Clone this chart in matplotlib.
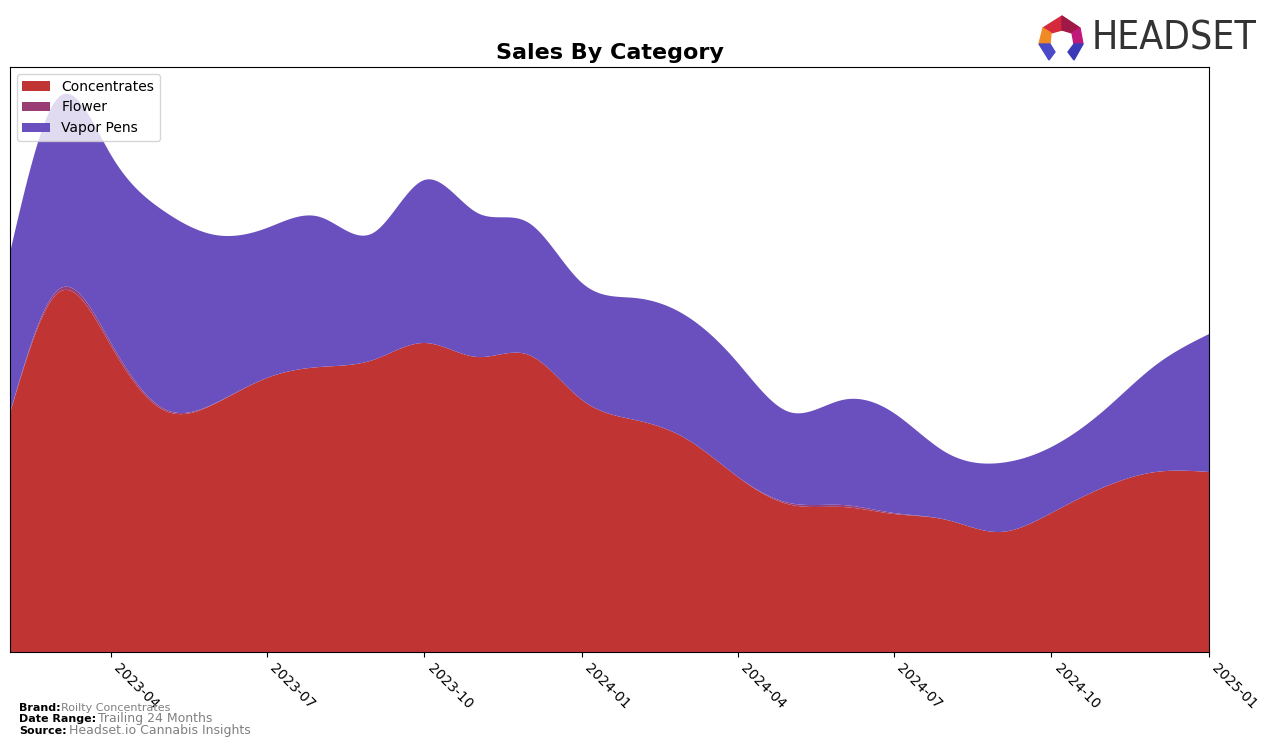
import numpy as np
import pandas as pd
import matplotlib
matplotlib.use("Agg")
import matplotlib.pyplot as plt
import matplotlib.dates as mdates
from matplotlib.patches import Polygon

# 月度数据（从图中估读，单位任意）
months = pd.date_range("2023-02-01", "2025-01-01", freq="MS")
concentrates = [238.5, 359, 306, 242.5, 248.5, 274, 285, 292, 309, 295, 297, 252,
                232, 214, 175, 147.5, 145, 138, 132, 120, 139, 165, 180, 180]
flower = [0.5, 3, 3, 1.5, 0.5, 0, 0, 0, 0, 0, 0, 0,
          0, 0, 0, 1.5, 2, 1, 0, 0, 0, 0, 0, 0]
vapor_pens = [160, 192, 188, 198, 168, 150, 150, 127, 163, 144, 132, 117,
              122, 123, 114, 91, 105, 100, 67, 69, 66, 77, 107, 138]

categories = ["Concentrates", "Flower", "Vapor Pens"]
colors = ["#c13434", "#993d74", "#6a4fbe"]


def natural_spline(x, y, xs):
    """自然三次样条，用于平滑曲线"""
    x = np.asarray(x, float)
    y = np.asarray(y, float)
    n = len(x)
    h = np.diff(x)
    A = np.zeros((n, n))
    b = np.zeros(n)
    A[0, 0] = 1
    A[-1, -1] = 1
    for i in range(1, n - 1):
        A[i, i - 1] = h[i - 1]
        A[i, i] = 2 * (h[i - 1] + h[i])
        A[i, i + 1] = h[i]
        b[i] = 3 * ((y[i + 1] - y[i]) / h[i] - (y[i] - y[i - 1]) / h[i - 1])
    c = np.linalg.solve(A, b)
    idx = np.clip(np.searchsorted(x, xs) - 1, 0, n - 2)
    dx = xs - x[idx]
    bb = (y[idx + 1] - y[idx]) / h[idx] - h[idx] * (2 * c[idx] + c[idx + 1]) / 3
    d = (c[idx + 1] - c[idx]) / (3 * h[idx])
    return y[idx] + bb * dx + c[idx] * dx ** 2 + d * dx ** 3


xnum = mdates.date2num(months)
xs = np.linspace(xnum[0], xnum[-1], 800)
smooth = [np.clip(natural_spline(xnum, s, xs), 0, None)
          for s in (concentrates, flower, vapor_pens)]

fig = plt.figure(figsize=(12.76, 7.47), dpi=100)
ax = fig.add_axes([0.0078, 0.1272, 0.9397, 0.7831])
ax.stackplot(xs, *smooth, labels=categories, colors=colors)

ax.set_xlim(xnum[0], xnum[-1])
ax.set_ylim(0, 585)
ax.set_yticks([])
ax.xaxis.set_major_locator(mdates.MonthLocator(bymonth=[1, 4, 7, 10]))
ax.xaxis.set_major_formatter(mdates.DateFormatter("%Y-%m"))
plt.setp(ax.get_xticklabels(), rotation=-45, ha="left", fontsize=10)
ax.set_title("Sales By Category", fontsize=16, fontweight="bold")
ax.legend(loc="upper left", fontsize=10)

# 页脚
fig.text(0.015, 0.048, "Brand:", fontsize=8, fontweight="bold")
fig.text(0.048, 0.048, "Roilty Concentrates", fontsize=8, color="gray")
fig.text(0.015, 0.033, "Date Range:", fontsize=8, fontweight="bold")
fig.text(0.077, 0.033, "Trailing 24 Months", fontsize=9, color="gray")
fig.text(0.015, 0.018, "Source:", fontsize=8, fontweight="bold")
fig.text(0.054, 0.018, "Headset.io Cannabis Insights", fontsize=9, color="gray")

# 标志
W, H = 1276, 747
def px(pts):
    return [(x / W, 1 - y / H) for x, y in pts]

logo_parts = [
    ([(1043, 28), (1062, 16), (1062, 30), (1051, 33)], "#d42a3c"),
    ([(1062, 16), (1080, 28), (1072, 33), (1062, 30)], "#a01848"),
    ([(1043, 28), (1051, 33), (1050, 44), (1039, 44)], "#f08a24"),
    ([(1080, 28), (1083, 44), (1074, 44), (1072, 33)], "#c0187a"),
    ([(1039, 44), (1050, 44), (1055, 52), (1049, 60)], "#4a4ac8"),
    ([(1083, 44), (1074, 44), (1068, 52), (1074, 60)], "#3a3ab8"),
]
for pts, col in logo_parts:
    fig.patches.append(Polygon(px(pts), closed=True, color=col, transform=fig.transFigure))
fig.text(1092 / W, 1 - 38 / H, "HEADSET", fontsize=28, color="#333333",
         va="center", ha="left", family="DejaVu Sans", fontstretch="condensed")

fig.savefig("out.png", dpi=100)
